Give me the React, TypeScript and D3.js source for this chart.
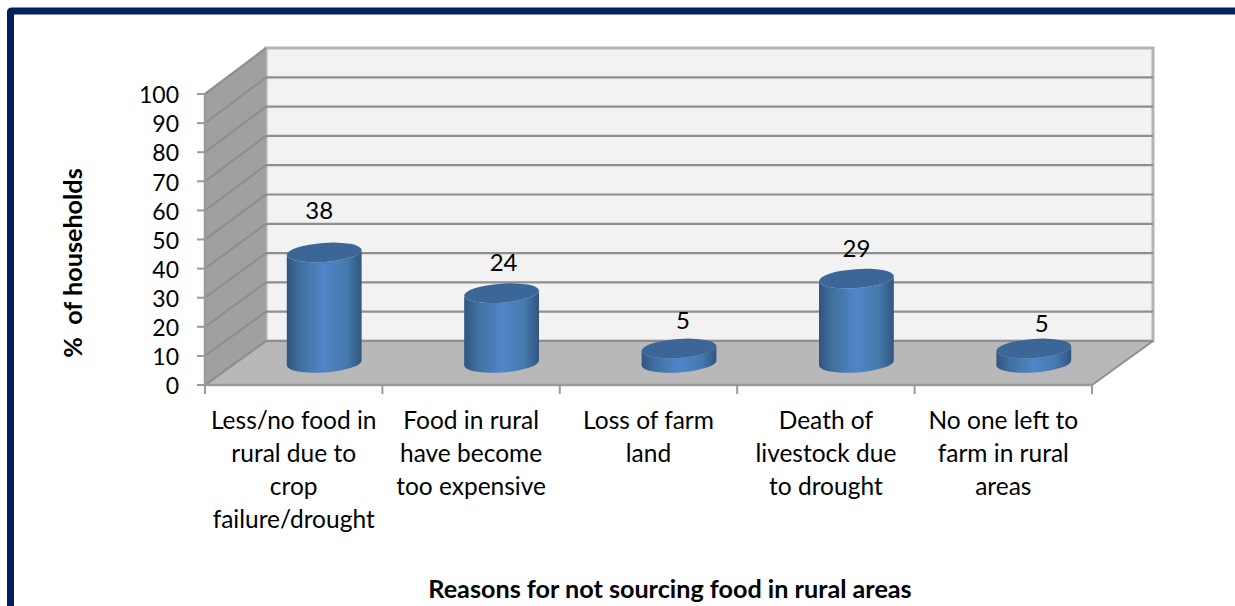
import React from "react";
import * as d3 from "d3";

const categories = [
  ["Less/no food in", "rural due to", "crop", "failure/drought"],
  ["Food in rural", "have become", "too expensive"],
  ["Loss of farm", "land"],
  ["Death of", "livestock due", "to drought"],
  ["No one left to", "farm in rural", "areas"],
];
const values = [38, 24, 5, 29, 5];
const yTicks = [0, 10, 20, 30, 40, 50, 60, 70, 80, 90, 100];
const xAxisTitle = "Reasons for not sourcing food in rural areas";
const yAxisTitle = "%\u00a0\u00a0of households";

// Hand placement of the value labels, which sit at uneven distances above the bars.
const labelNudges: [number, number][] = [
  [-5, -42],
  [2, -31],
  [4, -28],
  [0, -30],
  [8, -25],
];

const W = 1235;
const H = 606;
const FONT = "Lato, 'Open Sans', sans-serif";
const frontLeft = 205;
const frontRight = 1092;
const depthX = 61;

const yFront = d3.scaleLinear().domain([0, 100]).range([385, 94]);
const yBack = d3.scaleLinear().domain([0, 100]).range([341, 48]);
const yBar = d3.scaleLinear().domain([0, 100]).range([363, 72]);
const xBand = d3
  .scaleBand<number>()
  .domain(d3.range(values.length))
  .range([frontLeft, frontRight]);

const RX = 37.5;
const RY = 9.5;
const TILT = -4;

function Cylinder({ cx, top, base }: { cx: number; top: number; base: number }) {
  const t = (TILT * Math.PI) / 180;
  const dx = RX * Math.cos(t);
  const dy = RX * Math.sin(t);
  const side =
    `M${cx - dx},${top - dy} L${cx - dx},${base - dy} ` +
    `A${RX},${RY} ${TILT} 0 0 ${cx + dx},${base + dy} ` +
    `L${cx + dx},${top + dy} ` +
    `A${RX},${RY} ${TILT} 0 1 ${cx - dx},${top - dy} Z`;
  return (
    <g>
      <path d={side} fill="url(#cylinderSide)" />
      <ellipse
        cx={cx}
        cy={top}
        rx={RX}
        ry={RY}
        transform={`rotate(${TILT} ${cx} ${top})`}
        fill="#3c6698"
      />
    </g>
  );
}

export default function App() {
  const wall = "#a0a0a0";
  const gridColor = "#8e8e8e";
  const axisColor = "#9a9a9a";
  const barCentre = (i: number) => (xBand(i) as number) + xBand.bandwidth() / 2 + depthX / 2;
  const xTicks = [...xBand.domain().map((i) => xBand(i) as number), frontRight];

  return (
    <svg
      width={W}
      height={H}
      viewBox={`0 0 ${W} ${H}`}
      style={{ position: "absolute", left: 0, top: 0, display: "block" }}
      fontFamily={FONT}
    >
      <defs>
        <linearGradient id="cylinderSide" x1="0" x2="1" y1="0" y2="0">
          <stop offset="0" stopColor="#2f5482" />
          <stop offset="0.18" stopColor="#41709f" />
          <stop offset="0.5" stopColor="#5085c8" />
          <stop offset="0.8" stopColor="#457aae" />
          <stop offset="1" stopColor="#31557f" />
        </linearGradient>
      </defs>
      <rect width={W} height={H} fill="#ffffff" />

      {/* Frame open on the right and at the bottom */}
      <path d={`M10.5,${H} V12 Q10.5,11 12,11 H${W}`} fill="none" stroke="#002060" strokeWidth={7} />

      {/* Back wall */}
      <rect
        x={frontLeft + depthX}
        y={yBack(100)}
        width={frontRight - frontLeft}
        height={yBack(0) - yBack(100)}
        fill="#f2f2f2"
        stroke="#b4b4b4"
        strokeWidth={3}
      />
      {/* Side wall */}
      <polygon
        points={`${frontLeft},${yFront(100)} ${frontLeft + depthX},${yBack(100)} ${frontLeft + depthX},${yBack(0)} ${frontLeft},${yFront(0)}`}
        fill={wall}
      />
      {/* Floor */}
      <polygon
        points={`${frontLeft},${yFront(0)} ${frontRight},${yFront(0)} ${frontRight + depthX},${yBack(0)} ${frontLeft + depthX},${yBack(0)}`}
        fill="#b8b8b8"
      />

      {/* Gridlines across both walls */}
      {yTicks.map((v) => (
        <g key={v} fill="none" strokeWidth={2.2}>
          <line x1={frontLeft} y1={yFront(v)} x2={frontLeft + depthX} y2={yBack(v)} stroke={gridColor} />
          <line
            x1={frontLeft + depthX}
            y1={yBack(v)}
            x2={frontRight + depthX}
            y2={yBack(v)}
            stroke={v === 100 ? "#b4b4b4" : gridColor}
          />
        </g>
      ))}
      <line
        x1={frontRight}
        y1={yFront(0)}
        x2={frontRight + depthX}
        y2={yBack(0)}
        stroke={gridColor}
        strokeWidth={2}
      />

      {/* Value axis */}
      <line x1={frontLeft} y1={yFront(100)} x2={frontLeft} y2={yFront(0)} stroke={axisColor} strokeWidth={2.5} />
      {yTicks.map((v) => (
        <g key={v}>
          <line x1={frontLeft - 8} y1={yFront(v)} x2={frontLeft} y2={yFront(v)} stroke={axisColor} strokeWidth={2} />
          <text x={frontLeft - 26} y={yFront(v) + 1} dy="0.36em" fontSize={23} textAnchor="end" fill="#000">
            {v}
          </text>
        </g>
      ))}

      {/* Category axis */}
      <line x1={frontLeft} y1={yFront(0)} x2={frontRight} y2={yFront(0)} stroke={axisColor} strokeWidth={2.5} />
      {xTicks.map((x) => (
        <line key={x} x1={x} y1={yFront(0)} x2={x} y2={yFront(0) + 9} stroke={axisColor} strokeWidth={2} />
      ))}

      {/* Cylinders */}
      {values.map((v, i) => (
        <Cylinder key={i} cx={barCentre(i)} top={yBar(v)} base={yBar(0)} />
      ))}

      {/* Value labels */}
      {values.map((v, i) => (
        <text
          key={i}
          x={barCentre(i) + labelNudges[i][0]}
          y={yBar(v) + labelNudges[i][1]}
          dy="0.36em"
          fontSize={24}
          textAnchor="middle"
          fill="#000"
        >
          {v}
        </text>
      ))}

      {/* Category labels */}
      {categories.map((lines, i) => (
        <text key={i} fontSize={24.5} textAnchor="middle" fill="#000">
          {lines.map((line, j) => (
            <tspan key={j} x={barCentre(i) - depthX / 2} y={429 + j * 33}>
              {line}
            </tspan>
          ))}
        </text>
      ))}

      {/* Axis titles */}
      <text x={670} y={598} fontSize={25.2} fontWeight={700} textAnchor="middle" fill="#000">
        {xAxisTitle}
      </text>
      <text
        transform="translate(82,263) rotate(-90)"
        fontSize={25.2}
        fontWeight={700}
        textAnchor="middle"
        fill="#000"
      >
        {yAxisTitle}
      </text>
    </svg>
  );
}
